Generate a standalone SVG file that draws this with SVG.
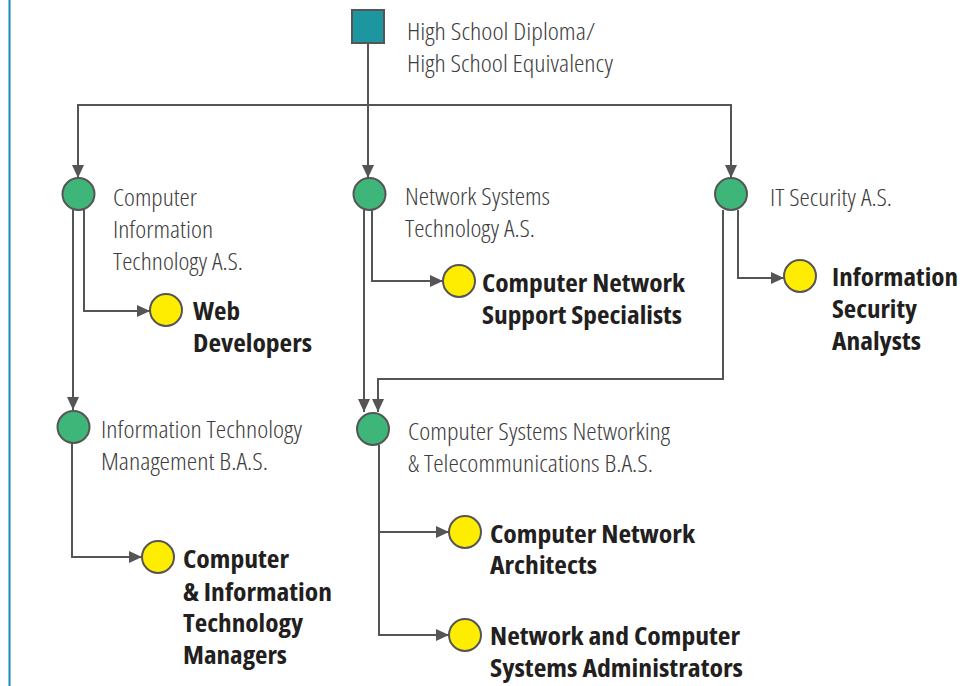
<svg xmlns="http://www.w3.org/2000/svg" width="978" height="686" viewBox="0 0 978 686">
<defs>
<marker id="arr" markerUnits="userSpaceOnUse" markerWidth="14" markerHeight="12" refX="13" refY="6" orient="auto">
<path d="M0,0 L13,6 L0,12 Z" fill="#555"/>
</marker>
<style>
.ln{fill:none;stroke:#555;stroke-width:2}
.ar{marker-end:url(#arr)}
.sq{fill:#1c97a0;stroke:#555;stroke-width:2}
.g{fill:#3fb679;stroke:#555;stroke-width:2}
.y{fill:#ffed00;stroke:#555;stroke-width:2}
.t{font-family:"Open Sans","Liberation Sans",sans-serif;font-weight:300;font-stretch:condensed;font-size:24px;fill:#3d3d3d}
.b{font-family:"Open Sans","Liberation Sans",sans-serif;font-weight:700;font-stretch:condensed;font-size:24px;fill:#231f20}
</style>
</defs>
<rect width="978" height="686" fill="#fff"/>
<line x1="9.5" y1="0" x2="9.5" y2="686" stroke="#1689b0" stroke-width="2"/>

<g id="connectors">
<path class="ln ar" d="M368,43 V178"/>
<path class="ln ar" d="M368,105 H78 V178"/>
<path class="ln ar" d="M368,105 H731 V178"/>
<path class="ln ar" d="M84,210 V311 H150"/>
<path class="ln ar" d="M73,210 V410"/>
<path class="ln ar" d="M372,210 V281 H443"/>
<path class="ln ar" d="M364,210 V412"/>
<path class="ln ar" d="M738,210 V278 H784"/>
<path class="ln ar" d="M723,210 V379 H378 V412"/>
<path class="ln ar" d="M379,445 V532 H449"/>
<path class="ln ar" d="M379,532 V635 H449"/>
<path class="ln ar" d="M72,443 V557 H142"/>
</g>

<g id="hs">
<rect class="sq" x="352" y="10" width="32" height="33"/>
<text class="t" x="407" y="40" textLength="188" lengthAdjust="spacingAndGlyphs">High School Diploma/</text>
<text class="t" x="407" y="72" textLength="206" lengthAdjust="spacingAndGlyphs">High School Equivalency</text>
</g>

<g id="cit">
<circle class="g" cx="78.5" cy="194" r="16"/>
<text class="t" x="113" y="206" textLength="84" lengthAdjust="spacingAndGlyphs">Computer</text>
<text class="t" x="113" y="238" textLength="100" lengthAdjust="spacingAndGlyphs">Information</text>
<text class="t" x="113" y="270" textLength="130" lengthAdjust="spacingAndGlyphs">Technology A.S.</text>
</g>

<g id="nst">
<circle class="g" cx="369.5" cy="194" r="16"/>
<text class="t" x="405" y="205" textLength="145" lengthAdjust="spacingAndGlyphs">Network Systems</text>
<text class="t" x="405" y="237" textLength="130" lengthAdjust="spacingAndGlyphs">Technology A.S.</text>
</g>

<g id="its">
<circle class="g" cx="731" cy="194" r="16"/>
<text class="t" x="770" y="205.5" textLength="122" lengthAdjust="spacingAndGlyphs">IT Security A.S.</text>
</g>

<g id="web">
<circle class="y" cx="166" cy="310" r="16"/>
<text class="b" x="193" y="320" textLength="47" lengthAdjust="spacingAndGlyphs">Web</text>
<text class="b" x="193" y="352" textLength="119" lengthAdjust="spacingAndGlyphs">Developers</text>
</g>

<g id="cnss">
<circle class="y" cx="459" cy="281" r="16"/>
<text class="b" x="482" y="292" textLength="203" lengthAdjust="spacingAndGlyphs">Computer Network</text>
<text class="b" x="482" y="323.5" textLength="200" lengthAdjust="spacingAndGlyphs">Support Specialists</text>
</g>

<g id="isa">
<circle class="y" cx="800" cy="276" r="16"/>
<text class="b" x="832" y="286" textLength="126" lengthAdjust="spacingAndGlyphs">Information</text>
<text class="b" x="832" y="318" textLength="85" lengthAdjust="spacingAndGlyphs">Security</text>
<text class="b" x="832" y="350" textLength="89" lengthAdjust="spacingAndGlyphs">Analysts</text>
</g>

<g id="itm">
<circle class="g" cx="73.5" cy="427" r="16"/>
<text class="t" x="101" y="438" textLength="201" lengthAdjust="spacingAndGlyphs">Information Technology</text>
<text class="t" x="101" y="470" textLength="167" lengthAdjust="spacingAndGlyphs">Management B.A.S.</text>
</g>

<g id="csn">
<circle class="g" cx="373" cy="429" r="16"/>
<text class="t" x="408" y="440" textLength="262" lengthAdjust="spacingAndGlyphs">Computer Systems Networking</text>
<text class="t" x="408" y="472" textLength="245" lengthAdjust="spacingAndGlyphs">&amp; Telecommunications B.A.S.</text>
</g>

<g id="citm">
<circle class="y" cx="158" cy="557" r="16"/>
<text class="b" x="183" y="568" textLength="106" lengthAdjust="spacingAndGlyphs">Computer</text>
<text class="b" x="183" y="600.5" textLength="149" lengthAdjust="spacingAndGlyphs">&amp; Information</text>
<text class="b" x="183" y="632" textLength="120" lengthAdjust="spacingAndGlyphs">Technology</text>
<text class="b" x="183" y="664" textLength="104" lengthAdjust="spacingAndGlyphs">Managers</text>
</g>

<g id="cna">
<circle class="y" cx="465" cy="532" r="16"/>
<text class="b" x="490" y="542.5" textLength="205" lengthAdjust="spacingAndGlyphs">Computer Network</text>
<text class="b" x="490" y="574" textLength="107" lengthAdjust="spacingAndGlyphs">Architects</text>
</g>

<g id="ncsa">
<circle class="y" cx="465" cy="635" r="16"/>
<text class="b" x="490" y="645" textLength="250" lengthAdjust="spacingAndGlyphs">Network and Computer</text>
<text class="b" x="490" y="677" textLength="253" lengthAdjust="spacingAndGlyphs">Systems Administrators</text>
</g>
</svg>
